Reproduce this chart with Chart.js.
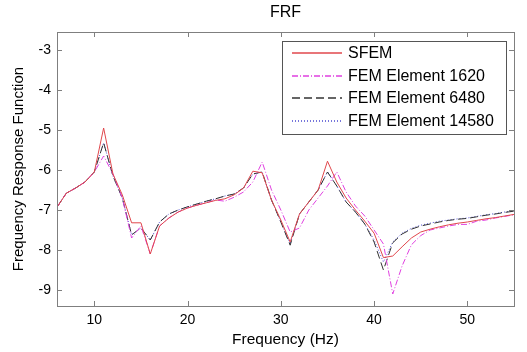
<!DOCTYPE html>
<html>
<head>
<meta charset="utf-8">
<script src="https://cdn.jsdelivr.net/npm/chart.js@4.4.0/dist/chart.umd.min.js"></script>
<style>
  html, body { margin: 0; padding: 0; background: #fff; }
  #wrap { width: 527px; height: 352px; }
</style>
</head>
<body>
<div id="wrap"><canvas id="frf" width="527" height="352"></canvas></div>
<script>
// ── Data ───────────────────────────────────────────────────────────
const freq = [6,7,8,9,10,11,12,13,14,15,16,17,18,19,20,21,22,23,24,25,26,27,28,29,30,
  31,32,33,34,35,36,37,38,39,40,41,42,43,44,45,46,47,48,49,50,51,52,53,54,55];

const sfem = [-6.93,-6.58,-6.45,-6.3,-6.05,-4.95,-6.1,-6.62,-7.32,-7.32,
  -8.1,-7.4,-7.2,-7.05,-6.95,-6.88,-6.82,-6.76,-6.72,-6.62,
  -6.45,-6.03,-6.07,-6.75,-7.25,-7.8,-7.1,-6.8,-6.5,-5.78,
  -6.3,-6.7,-7.0,-7.28,-7.58,-8.19,-8.15,-7.92,-7.7,-7.55,
  -7.48,-7.42,-7.37,-7.33,-7.3,-7.26,-7.22,-7.19,-7.15,-7.11];

const fem1620 = [-6.93,-6.58,-6.45,-6.3,-6.05,-5.65,-6.1,-6.7,-7.7,-7.4,
  -8.1,-7.4,-7.2,-7.05,-6.95,-6.88,-6.82,-6.75,-6.78,-6.68,
  -6.55,-6.3,-5.8,-6.5,-7.0,-7.55,-7.45,-7.0,-6.7,-6.4,
  -6.05,-6.55,-6.9,-7.15,-7.5,-7.85,-9.1,-8.4,-7.87,-7.64,
  -7.5,-7.45,-7.4,-7.36,-7.36,-7.28,-7.25,-7.2,-7.16,-7.12];

const fem6480 = [-6.93,-6.58,-6.45,-6.3,-6.05,-5.32,-6.15,-6.7,-7.62,-7.45,
  -7.75,-7.3,-7.1,-7.0,-6.92,-6.85,-6.78,-6.72,-6.65,-6.6,
  -6.45,-6.1,-6.05,-6.75,-7.3,-7.88,-7.1,-6.8,-6.5,-6.05,
  -6.4,-6.8,-7.05,-7.35,-7.8,-8.5,-7.82,-7.6,-7.48,-7.4,
  -7.35,-7.3,-7.26,-7.23,-7.21,-7.17,-7.13,-7.1,-7.06,-7.03];

const fem14580 = [-6.93,-6.58,-6.45,-6.3,-6.05,-5.32,-6.15,-6.7,-7.62,-7.45,
  -7.75,-7.3,-7.1,-7.0,-6.92,-6.85,-6.78,-6.72,-6.65,-6.6,
  -6.45,-6.1,-6.05,-6.75,-7.3,-7.85,-7.1,-6.8,-6.5,-6.05,
  -6.4,-6.8,-7.05,-7.35,-7.75,-8.3,-7.8,-7.58,-7.46,-7.38,
  -7.33,-7.28,-7.25,-7.22,-7.2,-7.16,-7.12,-7.09,-7.05,-7.02];

const seriesLabels = ['SFEM', 'FEM Element 1620', 'FEM Element 6480', 'FEM Element 14580'];
const xTicks = [10, 20, 30, 40, 50];
const yTicks = [-9, -8, -7, -6, -5, -4, -3];

const COLORS = ['#e0474c', '#e040e0', '#333333', '#4a4ad0'];
const DASHES = [[], [6, 2, 1, 2], [8, 4], [1, 2]];
const FONT = '"Liberation Sans", Arial, sans-serif';

function pts(vals) { return freq.map((f, i) => ({ x: f, y: vals[i] })); }

// ── MATLAB-ish box, inward ticks, title and legend ─────────────────
const matlabFrame = {
  id: 'matlabFrame',
  afterDraw(chart) {
    const { ctx, chartArea: a, scales } = chart;
    ctx.save();
    ctx.strokeStyle = '#7f7f7f';
    ctx.lineWidth = 1;
    ctx.strokeRect(a.left + 0.5, a.top + 0.5, a.right - a.left, a.bottom - a.top);
    ctx.beginPath();
    xTicks.forEach(v => {
      const px = Math.round(scales.x.getPixelForValue(v)) + 0.5;
      ctx.moveTo(px, a.bottom); ctx.lineTo(px, a.bottom - 5);
      ctx.moveTo(px, a.top); ctx.lineTo(px, a.top + 5);
    });
    yTicks.forEach(v => {
      const py = Math.round(scales.y.getPixelForValue(v)) + 0.5;
      ctx.moveTo(a.left, py); ctx.lineTo(a.left + 5, py);
      ctx.moveTo(a.right, py); ctx.lineTo(a.right - 5, py);
    });
    ctx.stroke();

    // title
    ctx.fillStyle = '#000';
    ctx.font = '16px ' + FONT;
    ctx.textAlign = 'center';
    ctx.textBaseline = 'middle';
    ctx.fillText('FRF', (a.left + a.right) / 2, 13);

    // legend box
    const lx = 282, ly = 41, lw = 224, lh = 93;
    ctx.fillStyle = '#fff';
    ctx.fillRect(lx, ly, lw, lh);
    ctx.strokeStyle = '#555';
    ctx.strokeRect(lx + 0.5, ly + 0.5, lw, lh);
    ctx.font = '16px ' + FONT;
    ctx.textAlign = 'left';
    seriesLabels.forEach((label, i) => {
      const y = Math.round(53 + i * 22.5);
      ctx.beginPath();
      ctx.strokeStyle = COLORS[i];
      ctx.lineWidth = 1.3;
      ctx.setLineDash(DASHES[i]);
      ctx.moveTo(292, y);
      ctx.lineTo(342, y);
      ctx.stroke();
      ctx.setLineDash([]);
      ctx.fillStyle = '#000';
      ctx.fillText(label, 348, y + 1);
    });
    ctx.restore();
  }
};

const allSeries = [sfem, fem1620, fem6480, fem14580];

new Chart(document.getElementById('frf'), {
  type: 'line',
  data: {
    datasets: allSeries.map((vals, i) => ({
      label: seriesLabels[i], data: pts(vals),
      borderColor: COLORS[i], borderWidth: 1, borderDash: DASHES[i]
    }))
  },
  options: {
    responsive: false,
    animation: false,
    layout: { padding: { left: 0, right: 13, top: 32, bottom: 0 } },
    elements: { point: { radius: 0 }, line: { tension: 0 } },
    plugins: { legend: { display: false }, tooltip: { enabled: false }, title: { display: false } },
    scales: {
      x: {
        type: 'linear', min: 6, max: 55,
        afterBuildTicks: s => { s.ticks = xTicks.map(v => ({ value: v })); },
        afterFit: s => { s.height = 46; },
        grid: { display: false, drawTicks: false },
        border: { display: false },
        ticks: { color: '#000', font: { family: FONT, size: 14 }, padding: 6, maxRotation: 0 },
        title: { display: true, text: 'Frequency (Hz)', color: '#000', font: { family: FONT, size: 15.5 }, padding: { top: 0, bottom: 3 } }
      },
      y: {
        min: -9.4, max: -2.55,
        afterBuildTicks: s => { s.ticks = yTicks.map(v => ({ value: v })); },
        afterFit: s => { s.width = 57; },
        grid: { display: false, drawTicks: false },
        border: { display: false },
        ticks: { color: '#000', font: { family: FONT, size: 14 }, padding: 6 },
        title: { display: true, text: 'Frequency Response Function', color: '#000', font: { family: FONT, size: 15 }, padding: { top: 10, bottom: 0 } }
      }
    }
  },
  plugins: [matlabFrame]
});
</script>
</body>
</html>
